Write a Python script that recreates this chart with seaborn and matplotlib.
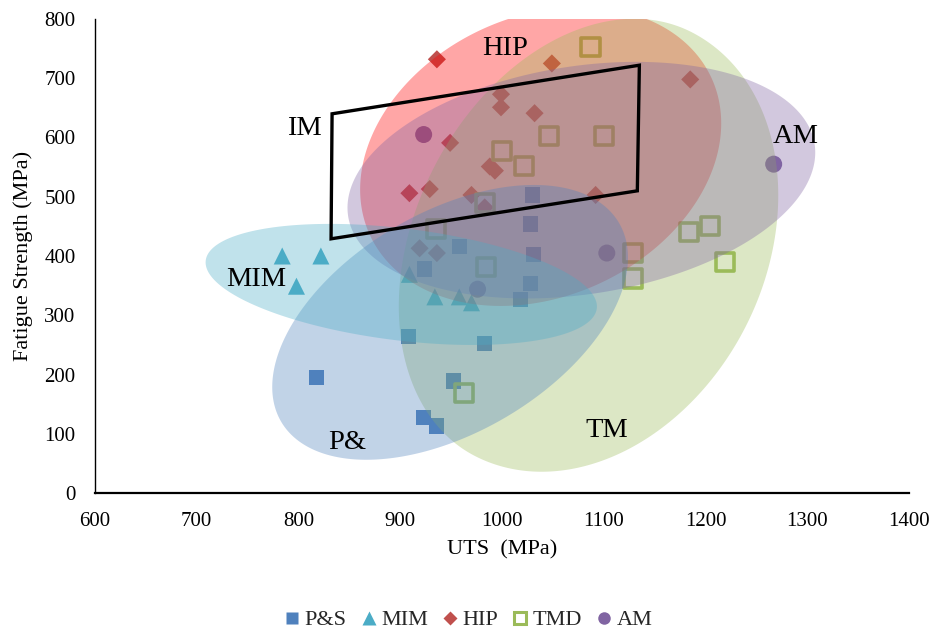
import matplotlib
matplotlib.use("Agg")
import matplotlib.pyplot as plt
import seaborn as sns
import pandas as pd
import numpy as np
from matplotlib.patches import Polygon
from matplotlib.lines import Line2D
from matplotlib.transforms import ScaledTranslation

# ---- data: UTS (MPa) vs fatigue strength (MPa) by processing route ----
ps_uts = [1030, 1028, 958, 1031, 924, 1028, 1018, 908, 983, 818, 952, 923, 936]
ps_fs = [503, 454, 416, 403, 378, 353, 327, 264, 252, 195, 189, 128, 113]

mim_uts = [784, 822, 798, 909, 934, 958, 970]
mim_fs = [400, 400, 349, 369, 331, 331, 321]

hip_uts = [936, 1049, 999, 999, 1032, 949, 988, 993, 909, 929, 970, 983,
           919, 936, 1185, 1092]
hip_fs = [732, 725, 673, 651, 641, 591, 551, 544, 506, 513, 503, 482,
          413, 405, 698, 503]

tmd_uts = [1087, 1100, 1046, 1000, 1022, 983, 935, 984, 963, 1184, 1204,
           1129, 1129, 1219]
tmd_fs = [753, 602, 602, 577, 552, 489, 445, 381, 169, 441, 451, 405, 362,
          390]

am_uts = [923, 1267, 1103, 976]
am_fs = [605, 555, 405, 344]

series_names = ["P&S", "MIM", "HIP", "TMD", "AM"]
series_colors = ["#4F81BD", "#4BACC6", "#C0504D", "#9BBB59", "#8064A2"]

# IM window (UTS, fatigue strength corners)
im_uts = [833, 1135, 1133, 832]
im_fs = [640, 722, 510, 429]

x_ticks = [600, 700, 800, 900, 1000, 1100, 1200, 1300, 1400]
y_ticks = [0, 100, 200, 300, 400, 500, 600, 700, 800]

# ---- style ----
sns.set_theme(style="white")
plt.rcParams["font.family"] = ["Liberation Serif", "DejaVu Serif"]

fig = plt.figure(figsize=(9.32, 6.34), dpi=100)
ax = fig.add_axes([95 / 932, 1 - 493 / 634, 814 / 932, 474 / 634])

frames = []
for name, xs, ys in [("P&S", ps_uts, ps_fs), ("MIM", mim_uts, mim_fs),
                     ("HIP", hip_uts, hip_fs), ("TMD", tmd_uts, tmd_fs),
                     ("AM", am_uts, am_fs)]:
    frames.append(pd.DataFrame({"UTS": xs, "FS": ys, "route": name}))
df = pd.concat(frames, ignore_index=True)

marker_spec = {
    "P&S": dict(marker="s", s=120),
    "MIM": dict(marker="^", s=150),
    "HIP": dict(marker="D", s=85),
    "TMD": dict(marker="s", s=170),
    "AM": dict(marker="o", s=150),
}

for name, color in zip(series_names, series_colors):
    sub = df[df["route"] == name]
    spec = marker_spec[name]
    if name == "TMD":
        sns.scatterplot(data=sub, x="UTS", y="FS", ax=ax, marker=spec["marker"],
                        s=spec["s"], facecolor="none", edgecolor=color,
                        linewidth=2.6, zorder=2, legend=False)
    else:
        sns.scatterplot(data=sub, x="UTS", y="FS", ax=ax, marker=spec["marker"],
                        s=spec["s"], color=color, edgecolor="none",
                        linewidth=0, zorder=2, legend=False)

ax.set_xlim(600, 1400)
ax.set_ylim(0, 800)


def blob(cx, cy, a_px, b_px, angle, color, b2_px=None):
    """Translucent oval centred on a data point, sized in screen pixels.

    b_px is the half-width on the left of the major axis, b2_px on the
    right (defaults to the same, giving a plain ellipse)."""
    if b2_px is None:
        b2_px = b_px
    t = np.linspace(0, 2 * np.pi, 361)
    u = a_px * np.cos(t)
    v = np.where(np.sin(t) >= 0, b_px, b2_px) * np.sin(t)
    th = np.deg2rad(angle)
    px = u * np.cos(th) - v * np.sin(th)
    py = u * np.sin(th) + v * np.cos(th)
    tr = fig.dpi_scale_trans + ScaledTranslation(cx, cy, ax.transData)
    ax.add_patch(Polygon(np.column_stack([px, py]) / 100, closed=True,
                         transform=tr, facecolor=color, edgecolor="none",
                         alpha=0.35, zorder=3))


# property envelopes
blob(1038, 568, 188, 140, 24.7, "#FF0000")                 # HIP
blob(1080, 420, 238, 168, 63.0, "#9BBB59", b2_px=182)      # TM
blob(1078, 528, 236, 114, 8.8, "#8064A2")                  # AM
blob(949, 288, 196, 110, 30.5, "#4F81BD")                  # P&
blob(901, 352, 197, 56, -7.0, "#4BACC6")                   # MIM

ax.add_patch(Polygon(list(zip(im_uts, im_fs)), closed=True, fill=False,
                     edgecolor="black", linewidth=2.4, zorder=5))

label_kw = dict(fontsize=20.5, ha="center", va="center", color="black",
                zorder=6)
ax.text(1003, 751, "HIP", **label_kw)
ax.text(806, 616, "IM", **label_kw)
ax.text(1289, 602, "AM", **label_kw)
ax.text(758, 360, "MIM", **label_kw)
ax.text(848, 86, "P&", **label_kw)
ax.text(1103, 106, "TM", **label_kw)

# axes
ax.set_xticks(x_ticks)
ax.set_yticks(y_ticks)
ax.tick_params(axis="both", length=0, pad=14, labelsize=15, colors="black")
ax.set_xlabel("UTS  (MPa)", fontsize=16, color="black", labelpad=6)
ax.set_ylabel("Fatigue Strength (MPa)", fontsize=16, color="black",
              labelpad=8)
for side in ["top", "right"]:
    ax.spines[side].set_visible(False)
ax.spines["left"].set_color("black")
ax.spines["left"].set_linewidth(1.0)
ax.spines["bottom"].set_color("black")
ax.spines["bottom"].set_linewidth(1.6)
ax.grid(False)

# legend
handles = []
for name, color in zip(series_names, series_colors):
    if name == "P&S":
        h = Line2D([], [], marker="s", linestyle="none", markersize=8.5,
                   markerfacecolor=color, markeredgecolor="none")
    elif name == "MIM":
        h = Line2D([], [], marker="^", linestyle="none", markersize=9.5,
                   markerfacecolor=color, markeredgecolor="none")
    elif name == "HIP":
        h = Line2D([], [], marker="D", linestyle="none", markersize=7,
                   markerfacecolor=color, markeredgecolor="none")
    elif name == "TMD":
        h = Line2D([], [], marker="s", linestyle="none", markersize=8.5,
                   markerfacecolor="none", markeredgecolor=color,
                   markeredgewidth=2.2)
    else:
        h = Line2D([], [], marker="o", linestyle="none", markersize=9,
                   markerfacecolor=color, markeredgecolor="none")
    handles.append(h)

fig.legend(handles, series_names, loc="center",
           bbox_to_anchor=(469 / 932, 1 - 620 / 634), ncol=5, frameon=False,
           fontsize=16, handlelength=0.6, handletextpad=0.25,
           columnspacing=0.7)

fig.savefig("out.png", dpi=100)
